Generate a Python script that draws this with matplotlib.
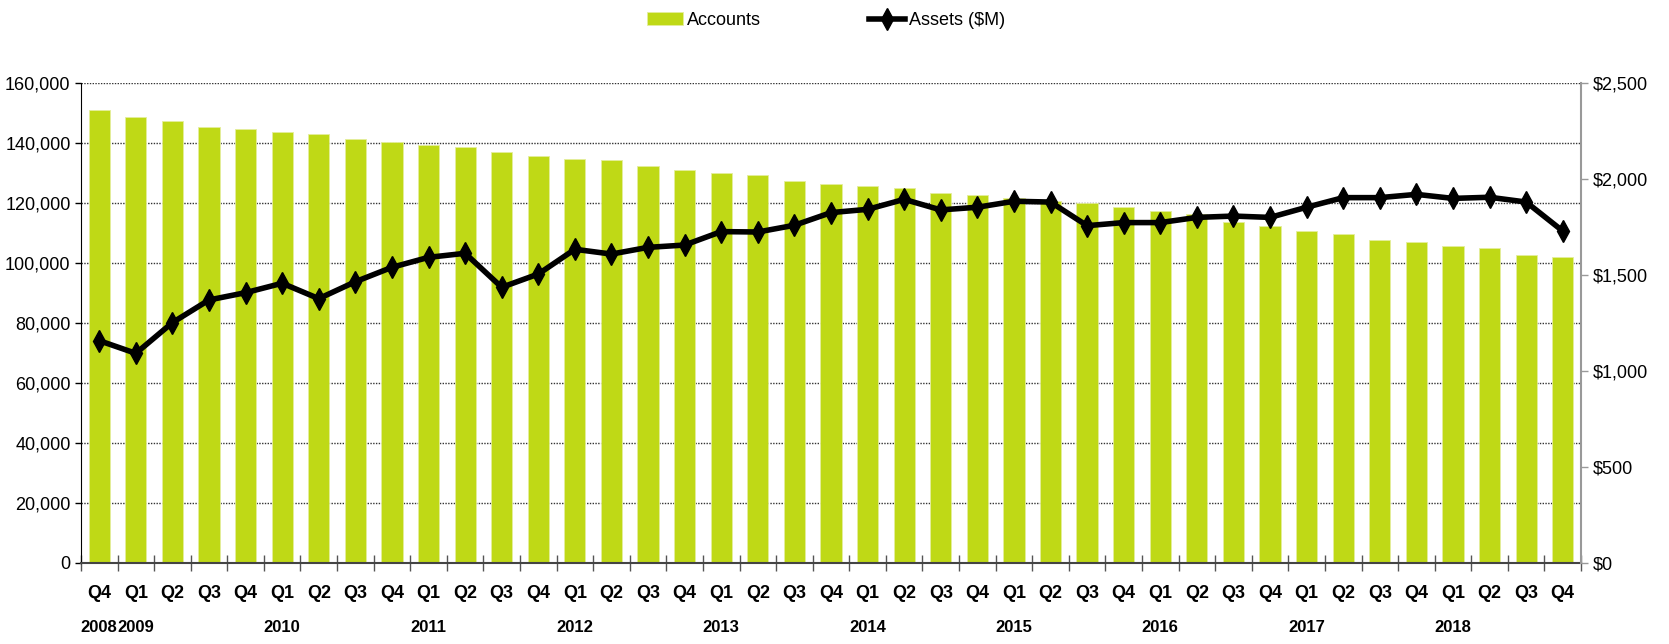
import matplotlib
matplotlib.use("Agg")
import matplotlib.pyplot as plt
from matplotlib.ticker import FuncFormatter, MultipleLocator, FixedLocator
import matplotlib.transforms as mtransforms

plt.rcParams["font.family"] = ["Liberation Sans", "DejaVu Sans"]

quarters = ["Q4", "Q1", "Q2", "Q3",
            "Q4", "Q1", "Q2", "Q3",
            "Q4", "Q1", "Q2", "Q3",
            "Q4", "Q1", "Q2", "Q3",
            "Q4", "Q1", "Q2", "Q3",
            "Q4", "Q1", "Q2", "Q3",
            "Q4", "Q1", "Q2", "Q3",
            "Q4", "Q1", "Q2", "Q3",
            "Q4", "Q1", "Q2", "Q3",
            "Q4", "Q1", "Q2", "Q3",
            "Q4"]
year_labels = {0: "2008", 1: "2009", 5: "2010", 9: "2011", 13: "2012",
               17: "2013", 21: "2014", 25: "2015", 29: "2016", 33: "2017",
               37: "2018"}

accounts = [150900, 148700, 147200, 145400, 144600, 143700, 143000, 141200,
            140200, 139300, 138800, 137000, 135800, 134800, 134200, 132200,
            131100, 130100, 129200, 127200, 126400, 125600, 124900, 123200,
            122600, 121600, 120700, 119900, 118600, 117300, 116200, 113600,
            112200, 110700, 109700, 107800, 106900, 105700, 104900, 102800,
            101900]

assets = [1158, 1092, 1252, 1370, 1408, 1457, 1377, 1465,
          1540, 1592, 1613, 1436, 1505, 1634, 1609, 1644,
          1656, 1726, 1724, 1759, 1825, 1842, 1894, 1839,
          1853, 1884, 1880, 1757, 1773, 1773, 1800, 1807,
          1800, 1853, 1903, 1903, 1920, 1899, 1905, 1880,
          1729]

bar_color = "#BFD916"
x = list(range(len(quarters)))

fig = plt.figure(figsize=(16.69, 6.44), dpi=100)
ax = fig.add_axes([0.0485, 0.1258, 0.8988, 0.7453])

ax.bar(x, accounts, width=0.58, color=bar_color, edgecolor="#E4EE9C",
       linewidth=0.6, label="Accounts", zorder=2)
ax.set_xlim(-0.5, len(x) - 0.5)
ax.set_ylim(0, 160000)
ax.yaxis.set_major_locator(MultipleLocator(20000))
ax.yaxis.set_major_formatter(FuncFormatter(lambda v, p: f"{int(v):,}"))
ax.set_axisbelow(True)
ax.grid(axis="y", linestyle=(0, (1, 1)), color="#333333", linewidth=1)

# quarter labels at bar centres, tick marks on the boundaries
ax.set_xticks(x)
ax.set_xticklabels(quarters, fontsize=13, fontweight="bold")
ax.tick_params(axis="x", which="major", length=0, pad=16)
ax.xaxis.set_minor_locator(FixedLocator([i - 0.5 for i in range(len(x) + 1)]))
ax.tick_params(axis="x", which="minor", direction="inout", length=11,
               width=1, color="#555555")
ax.tick_params(axis="y", labelsize=13, direction="out", length=4, width=1)

trans = mtransforms.blended_transform_factory(ax.transData, ax.transAxes)
for i, yr in year_labels.items():
    ax.text(i, -0.118, yr, transform=trans, ha="center", va="top",
            fontsize=12, fontweight="bold")

for side in ["top", "right"]:
    ax.spines[side].set_visible(False)
ax.spines["left"].set_color("black")
ax.spines["bottom"].set_color("#444444")
ax.spines["bottom"].set_linewidth(1.5)

ax2 = ax.twinx()
ax2.plot(x, assets, color="black", linewidth=4, marker="d",
         markersize=11, markeredgewidth=1, label="Assets ($M)", zorder=3)
ax2.set_ylim(0, 2500)
ax2.yaxis.set_major_locator(MultipleLocator(500))
ax2.yaxis.set_major_formatter(FuncFormatter(lambda v, p: f"${int(v):,}"))
ax2.tick_params(axis="y", labelsize=13, direction="out", length=5, width=1,
                color="#999999")
for side in ["top", "left", "bottom"]:
    ax2.spines[side].set_visible(False)
ax2.spines["right"].set_color("#999999")
ax2.spines["right"].set_linewidth(1.5)

h1, l1 = ax.get_legend_handles_labels()
h2, l2 = ax2.get_legend_handles_labels()
fig.legend(h1 + h2, l1 + l2, loc="center", bbox_to_anchor=(0.495, 0.968),
           ncol=2, frameon=False, fontsize=13, columnspacing=6.0,
           handlelength=2.0, handletextpad=0.2)

fig.savefig("out.png", dpi=100)
